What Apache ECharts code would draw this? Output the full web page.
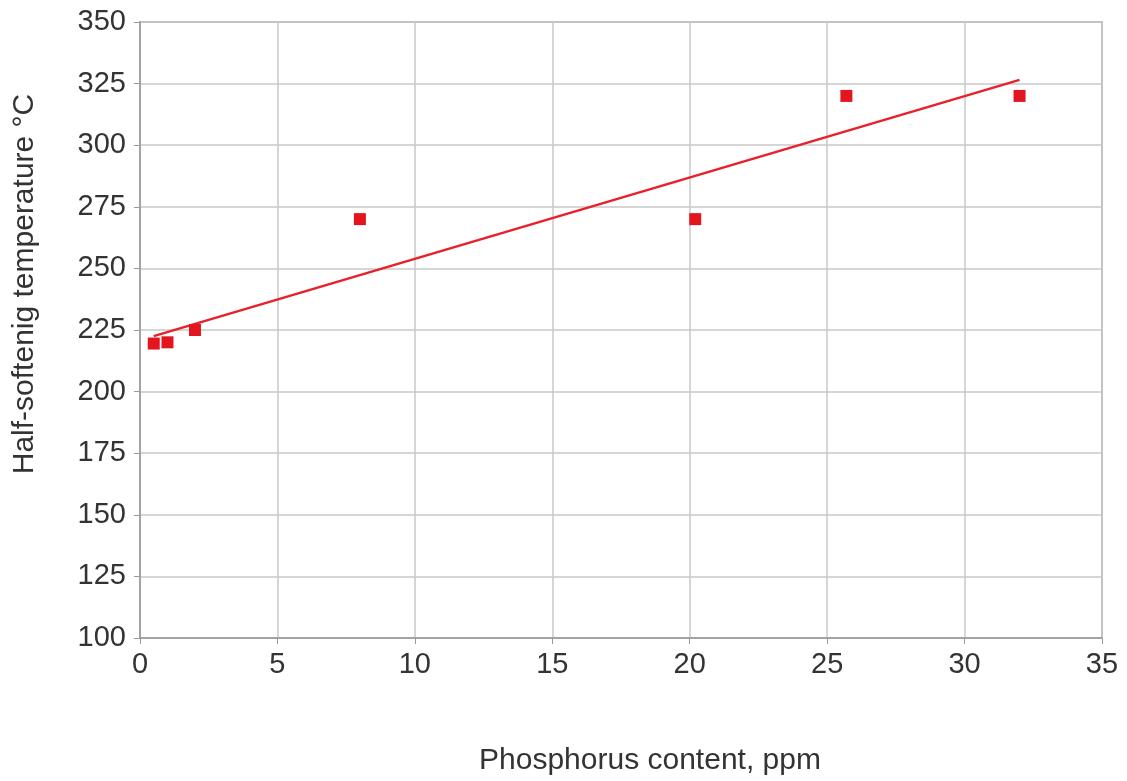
<!DOCTYPE html>
<html>
<head>
<meta charset="utf-8">
<script src="https://cdn.jsdelivr.net/npm/echarts@6/dist/echarts.min.js"></script>
<style>html,body{margin:0;padding:0;background:#fff;}#c{width:1127px;height:781px;}</style>
</head>
<body>
<div id="c"></div>
<script>
const phosphorus = [0.5, 1, 2, 8, 20.2, 25.7, 32];
const temperature = [219.5, 220, 225, 270, 270, 320, 320];
const trendX = [0.5, 32];
const trendY = [222.5, 326.5];
const xTicks = [0, 5, 10, 15, 20, 25, 30, 35];
const yTicks = [100, 125, 150, 175, 200, 225, 250, 275, 300, 325, 350];
const xTitle = 'Phosphorus content, ppm';
const yTitle = 'Half-softenig temperature °C';

const chart = echarts.init(document.getElementById('c'));
const font = "'Liberation Sans', Arial, sans-serif";
chart.setOption({
  animation: false,
  backgroundColor: '#fff',
  grid: { left: 140, right: 25, top: 22, bottom: 142, show: true, borderColor: '#999', borderWidth: 1.5 },
  xAxis: {
    type: 'value', min: xTicks[0], max: xTicks[xTicks.length - 1], interval: 5,
    name: xTitle, nameLocation: 'middle', nameGap: 108,
    nameTextStyle: { fontFamily: font, fontSize: 30, color: '#333', padding: [0, 0, 0, 58] },
    axisLine: { show: true, lineStyle: { color: '#999', width: 1.5 } },
    axisTick: { show: true, length: 6, lineStyle: { color: '#999' } },
    axisLabel: { fontFamily: font, fontSize: 29, color: '#333', margin: 12 },
    splitLine: { show: true, lineStyle: { color: '#c8c8c8', width: 1.5 } }
  },
  yAxis: {
    type: 'value', min: yTicks[0], max: yTicks[yTicks.length - 1], interval: 25,
    name: yTitle, nameLocation: 'middle', nameGap: 100, nameRotate: 90,
    nameTextStyle: { fontFamily: font, fontSize: 30, color: '#333', padding: [0, 0, 0, 92] },
    axisLine: { show: true, lineStyle: { color: '#999', width: 1.5 } },
    axisTick: { show: true, length: 6, lineStyle: { color: '#999' } },
    axisLabel: { fontFamily: font, fontSize: 29, color: '#333', margin: 14 },
    splitLine: { show: true, lineStyle: { color: '#c8c8c8', width: 1.5 } }
  },
  series: [
    {
      type: 'line',
      data: trendX.map((x, i) => [x, trendY[i]]),
      showSymbol: false,
      lineStyle: { color: '#e8202a', width: 2.5 },
      z: 2
    },
    {
      type: 'scatter',
      data: phosphorus.map((x, i) => [x, temperature[i]]),
      symbol: 'rect',
      symbolSize: 12,
      itemStyle: { color: '#e3161f', opacity: 1 },
      z: 3
    }
  ]
});
</script>
</body>
</html>
